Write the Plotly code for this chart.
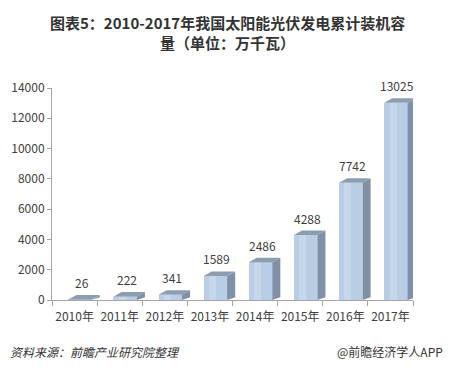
import plotly.graph_objects as go

years = ["2010年", "2011年", "2012年", "2013年", "2014年", "2015年", "2016年", "2017年"]
values = [26, 222, 341, 1589, 2486, 4288, 7742, 13025]
y_ticks = [0, 2000, 4000, 6000, 8000, 10000, 12000, 14000]
y_tick_labels = [str(v) for v in y_ticks]
title_lines = ["图表5：2010-2017年我国太阳能光伏发电累计装机容", "量（单位：万千瓦）"]

FONT = "Noto Sans CJK SC"
W, H = 454, 371
L, R, T, B = 52, 41, 88, 71
PW, PH = W - L - R, H - T - B

shift = 0.12     # front face centre offset (category units)
bw = 0.52        # front face width
dx = 0.18        # depth offset x (category units)
dy = 300         # depth offset y (value units)

front = "#b9cde5"
side = "#7f91a6"
top = "#8c9db2"

fig = go.Figure()
xs = [i + shift for i in range(len(values))]

# front faces
fig.add_trace(go.Bar(x=xs, y=values, width=bw, marker=dict(color=front, line=dict(width=0)),
                     hoverinfo="skip", showlegend=False))
# lighter highlight band on the front
fig.add_trace(go.Bar(x=[x - bw * 0.12 for x in xs], y=values, width=bw * 0.3,
                     marker=dict(color="#c6d7ec", line=dict(width=0)), hoverinfo="skip", showlegend=False))

for x, v in zip(xs, values):
    xl, xr = x - bw / 2, x + bw / 2
    # side face
    fig.add_trace(go.Scatter(x=[xr, xr + dx, xr + dx, xr, xr], y=[0, dy * 0.6, v + dy, v, 0],
                             fill="toself", fillcolor=side, mode="lines", line=dict(width=0, color=side),
                             hoverinfo="skip", showlegend=False))
    # top face
    fig.add_trace(go.Scatter(x=[xl, xr, xr + dx, xl + dx, xl], y=[v, v, v + dy, v + dy, v],
                             fill="toself", fillcolor=top, mode="lines", line=dict(width=0, color=top),
                             hoverinfo="skip", showlegend=False))
    fig.add_annotation(x=x + dx * 0.2, y=v + dy, text=f"{v}", showarrow=False, yanchor="bottom",
                       yshift=2, font=dict(family=FONT, size=12, color="#404040"))

fig.update_layout(
    width=W, height=H, margin=dict(l=L, r=R, t=T, b=B),
    paper_bgcolor="white", plot_bgcolor="white",
    barmode="overlay", bargap=0,
    xaxis=dict(range=[-0.5, 7.5], tickvals=list(range(len(years))), ticktext=years,
               showgrid=False, zeroline=False, showline=True, linecolor="#a6a6a6", linewidth=1,
               ticks="outside", ticklen=6, tickcolor="rgba(0,0,0,0)",
               tickfont=dict(family=FONT, size=12, color="#404040"), fixedrange=True),
    xaxis2=dict(range=[-0.5, 7.5], overlaying="x", side="bottom", tickvals=[i - 0.5 for i in range(len(years) + 1)],
                showticklabels=False, ticks="outside", ticklen=5, tickcolor="#a6a6a6",
                showgrid=False, zeroline=False, showline=False),
    yaxis=dict(range=[0, 14000], tickvals=y_ticks, ticktext=y_tick_labels, showgrid=False, zeroline=False,
               showline=True, linecolor="#a6a6a6", linewidth=1, ticks="outside", ticklen=4,
               tickcolor="#a6a6a6", tickfont=dict(family=FONT, size=12, color="#404040")),
)
# dummy trace to activate xaxis2
fig.add_trace(go.Scatter(x=[0], y=[0], xaxis="x2", mode="markers", marker=dict(opacity=0),
                         hoverinfo="skip", showlegend=False))

# title (two lines in one text)
fig.add_annotation(xref="paper", yref="paper", x=(227 - L) / PW, y=(T + PH - 33) / PH,
                   text="<br>".join(f"<b>{s}</b>" for s in title_lines), showarrow=False,
                   xanchor="center", yanchor="middle", align="center",
                   font=dict(family=FONT, size=15, color="#333333"))

fig.add_annotation(xref="paper", yref="paper", x=(8 - L) / PW, y=(T + PH - 351) / PH,
                   text="<i>资料来源：前瞻产业研究院整理</i>", showarrow=False, xanchor="left", yanchor="middle",
                   font=dict(family=FONT, size=12, color="#333333"))
fig.add_annotation(xref="paper", yref="paper", x=(445 - L) / PW, y=(T + PH - 351) / PH,
                   text="@前瞻经济学人APP", showarrow=False, xanchor="right", yanchor="middle",
                   font=dict(family=FONT, size=12, color="#333333"))

fig.write_html("out.html", config={"displayModeBar": False},
               post_script="document.body.style.margin='0';document.body.style.overflow='hidden';")
